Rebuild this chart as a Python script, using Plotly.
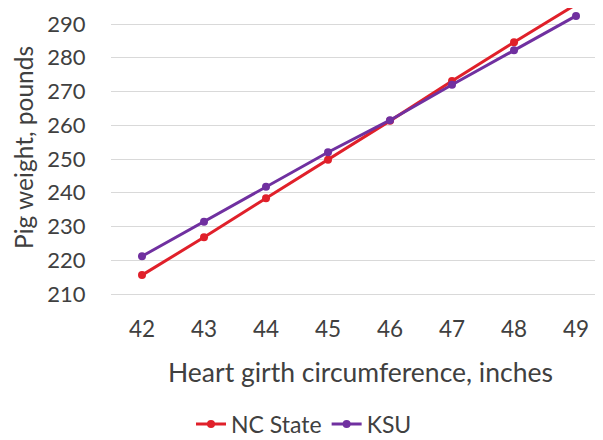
import plotly.graph_objects as go

girth = [42, 43, 44, 45, 46, 47, 48, 49]
nc_state = [215.6, 226.8, 238.4, 249.8, 261.3, 273.1, 284.6, 295.8]
ksu = [221.2, 231.4, 241.8, 252.0, 261.5, 272.0, 282.2, 292.4]

y_ticks = [210, 220, 230, 240, 250, 260, 270, 280, 290]

FONT = "Lato"
TXT = "#404040"

# The page body adds an 8px margin, so the figure is drawn 8px smaller.
W, H = 595, 432
L, B = 103, 146
PW, PH = W - L, H - B

fig = go.Figure()
fig.add_trace(go.Scatter(x=girth, y=nc_state, name="NC State", mode="lines+markers",
                         line=dict(color="#e0202a", width=3),
                         marker=dict(color="#e0202a", size=8), cliponaxis=False))
fig.add_trace(go.Scatter(x=girth, y=ksu, name="KSU", mode="lines+markers",
                         line=dict(color="#7030a0", width=3),
                         marker=dict(color="#7030a0", size=8), cliponaxis=False))

fig.update_layout(
    width=W, height=H,
    margin=dict(l=L, r=0, t=0, b=B, pad=0, autoexpand=False),
    plot_bgcolor="white", paper_bgcolor="white",
    font=dict(family=FONT, size=21, color=TXT),
    showlegend=True,
    legend=dict(orientation="h", x=296 / W, xanchor="center", xref="container",
                y=1 - 416 / H, yref="container", yanchor="middle",
                bgcolor="rgba(0,0,0,0)",
                font=dict(size=23, color=TXT), itemwidth=30, tracegroupgap=0),
    xaxis=dict(range=[41.5, 49.435], tickvals=girth, showgrid=False,
               showline=True, linecolor="#d9d9d9", linewidth=1, automargin=False,
               ticks="outside", ticklen=15, tickcolor="rgba(0,0,0,0)",
               tickfont=dict(size=22.5, color=TXT), zeroline=False),
    yaxis=dict(range=[210, 210 + PH / 3.375], tickvals=y_ticks, showgrid=True, automargin=False,
               gridcolor="#d9d9d9", gridwidth=1, zeroline=False,
               ticks="outside", ticklen=20, tickcolor="rgba(0,0,0,0)",
               tickfont=dict(size=22, color=TXT)),
    annotations=[
        dict(text="Heart girth circumference, inches", xref="paper", yref="paper",
             x=(352 - L) / PW, y=(PH - 364) / PH, xanchor="center", yanchor="middle",
             showarrow=False, font=dict(size=26.5, color=TXT)),
        dict(text="Pig weight, pounds", xref="paper", yref="paper", textangle=-90,
             x=(15 - L) / PW, y=(PH - 140) / PH, xanchor="center", yanchor="middle",
             showarrow=False, font=dict(size=24.5, color=TXT)),
    ],
)

fig.write_html("out.html")
